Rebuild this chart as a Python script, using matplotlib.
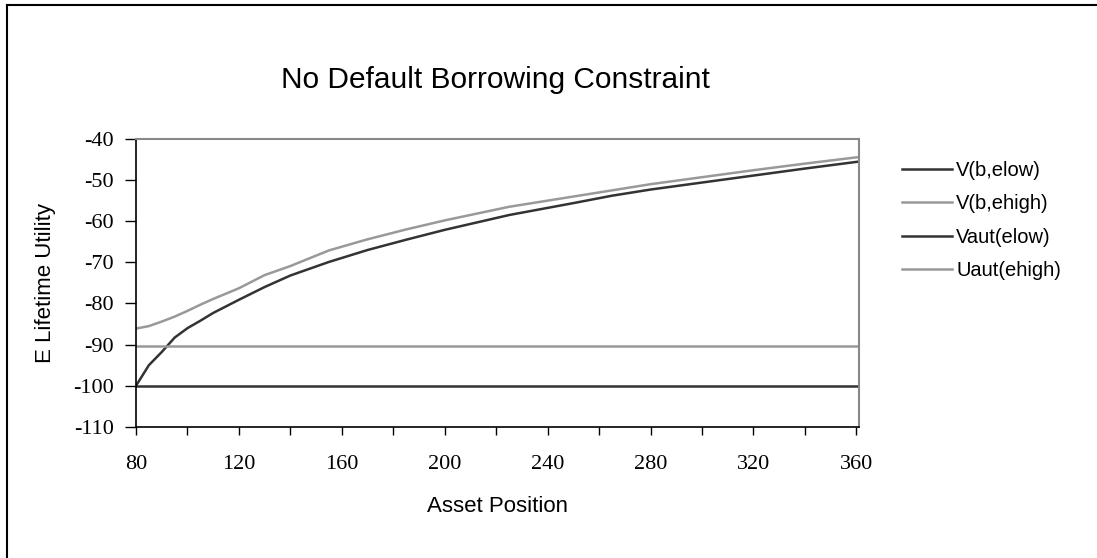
import numpy as np
import matplotlib
matplotlib.use("Agg")
import matplotlib.pyplot as plt
from matplotlib.ticker import MultipleLocator

plt.rcParams["axes.unicode_minus"] = False

# values
asset = [80, 85, 90, 95, 100, 105, 110, 120, 130, 140, 155, 170, 185, 200,
         225, 250, 265, 280, 300, 320, 340, 361]
v_elow = [-100.0, -95.0, -91.8, -88.3, -86.0, -84.2, -82.3, -79.1, -76.0, -73.2,
          -69.9, -67.0, -64.5, -62.1, -58.5, -55.6, -53.8, -52.3, -50.6, -48.9,
          -47.2, -45.5]
v_ehigh = [-86.1, -85.5, -84.4, -83.2, -81.8, -80.3, -78.9, -76.3, -73.1, -70.9,
           -67.1, -64.4, -62.0, -59.8, -56.5, -54.0, -52.5, -51.0, -49.3, -47.6,
           -46.0, -44.4]
vaut_elow = -100.0
uaut_ehigh = -90.4

labels = ["V(b,elow)", "V(b,ehigh)", "Vaut(elow)", "Uaut(ehigh)"]
DARK, LIGHT = "#333333", "#999999"

SANS = "Liberation Sans"
SERIF = "Liberation Serif"

fig = plt.figure(figsize=(10.97, 5.58), dpi=100)
ax = fig.add_axes([0.124, 0.235, 0.659, 0.516])

x = np.array(asset)
ax.plot(x, v_elow, color=DARK, lw=1.8, label=labels[0])
ax.plot(x, v_ehigh, color=LIGHT, lw=1.8, label=labels[1])
ax.plot(x, np.full(len(x), vaut_elow), color=DARK, lw=1.8, label=labels[2])
ax.plot(x, np.full(len(x), uaut_ehigh), color=LIGHT, lw=1.8, label=labels[3])

ax.set_xlim(80, 361)
ax.set_ylim(-110, -40)
ax.xaxis.set_major_locator(MultipleLocator(40))
ax.xaxis.set_minor_locator(MultipleLocator(20))
ax.yaxis.set_major_locator(MultipleLocator(10))
ax.tick_params(axis="both", which="both", direction="out", color="black",
               width=1, labelsize=16)
ax.tick_params(axis="x", which="both", length=6, pad=14)
ax.tick_params(axis="y", length=8, pad=8)
for lab in ax.get_xticklabels() + ax.get_yticklabels():
    lab.set_fontfamily(SERIF)

for s in ("left", "bottom"):
    ax.spines[s].set_color("black")
    ax.spines[s].set_linewidth(1.2)
for s in ("top", "right"):
    ax.spines[s].set_color("#888888")
    ax.spines[s].set_linewidth(1.5)

ax.set_xlabel("Asset Position", fontsize=16, family=SANS, labelpad=16)
ax.set_ylabel("E Lifetime Utility", fontsize=16, family=SANS, labelpad=12)
fig.text(0.452, 0.857, "No Default Borrowing Constraint", fontsize=21.5,
         family=SANS, ha="center", va="center")

leg = ax.legend(loc="upper left", bbox_to_anchor=(0.822, 0.712),
                bbox_transform=fig.transFigure, frameon=False,
                prop={"family": SANS, "size": 14.5}, handlelength=2.5,
                handletextpad=0.2, labelspacing=0.72, borderaxespad=0,
                borderpad=0)

# outer chart-area border (only top and left visible in the crop)
fig.add_artist(plt.Line2D([0.0064, 1.0], [0.991, 0.991], transform=fig.transFigure,
                          color="black", lw=1.5))
fig.add_artist(plt.Line2D([0.0064, 0.0064], [0.0, 0.991], transform=fig.transFigure,
                          color="black", lw=1.5))

fig.savefig("out.png", dpi=100)
